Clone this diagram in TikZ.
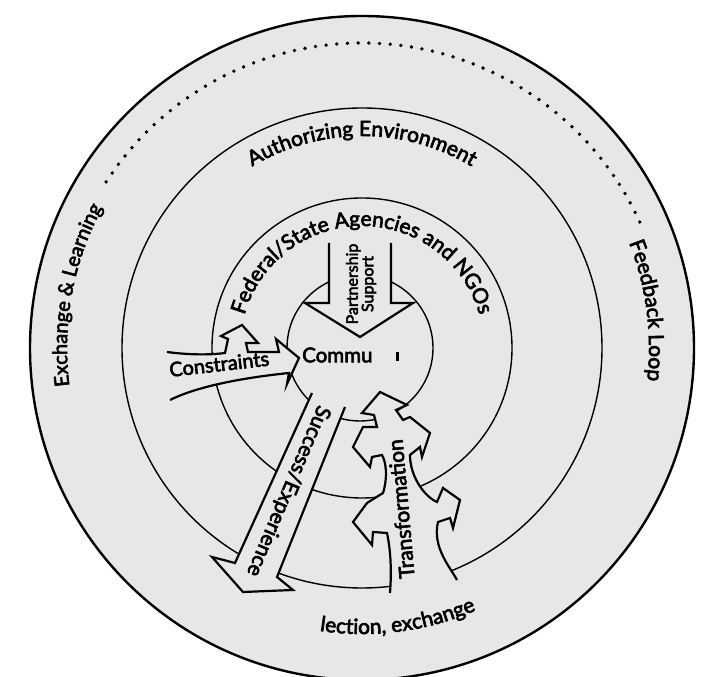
\documentclass[tikz,border=0pt]{standalone}
\usepackage{fontspec}
\setmainfont{Lato}[FakeBold=3]
\usetikzlibrary{decorations.text,calc}
\definecolor{ringfill}{RGB}{230,231,232}
\begin{document}
\begin{tikzpicture}[x=1pt,y=1pt,
  ringline/.style={line width=1.4pt},
  arrowline/.style={line width=2.2pt, fill=ringfill, line join=miter, miter limit=8},
  dotline/.style={line width=3.8pt, line cap=round, dash pattern=on 0pt off 10.7pt},
  lbl/.style={inner sep=0pt}
]
\useasboundingbox (0,0) rectangle (710,677);
\coordinate (C) at (362,329);
\coordinate (Ci) at (360,329);
% rings
\draw[line width=2.4pt, fill=ringfill] (C) circle (332);
\draw[dotline] ($(C)+(147:305)$) arc (147:24:305);
\draw[ringline] (C) circle (240);
\draw[ringline] (C) circle (150);
\draw[ringline] (Ci) circle (73);
% ring texts
\path[decorate, decoration={text along path, text align=center,
  text={|\fontsize{20}{24}\selectfont|Exchange {\&} Learning}}]
  ($(C)+(202:295)$) arc (202:137:295);
\path[decorate, decoration={text along path, text align=center,
  text={|\fontsize{21}{25}\selectfont|Feedback Loop}}]
  ($(C)+(40:287)$) arc (40:-25:287);
\path[decorate, decoration={text along path, text align=center,
  text={|\fontsize{21}{25}\selectfont|Authorizing Environment}}]
  ($(C)+(150:212)$) arc (150:30:212);
\path[decorate, decoration={text along path, text align=center,
  text={|\fontsize{21}{25}\selectfont|Federal/State Agencies and NGOs}}]
  ($(C)+(200:122)$) arc (200:-20:122);
\path[decorate, decoration={text along path, text align=center,
  text={|\fontsize{21}{25}\selectfont|lection, exchange}}]
  ($(C)+(240:286)$) arc (240:315:286);
% Partnership arrow
\draw[arrowline] (329,434) -- (329,374) -- (305,374) -- (360,340) -- (413,374) -- (391,374) -- (391,434);
% Constraints arrow
\draw[arrowline] (167,325) .. controls (190,322) and (210,322) .. (225,324)
  -- (228,338) -- (221,341) -- (242,352) -- (258,334) -- (246,334) -- (248,325)
  -- (279,325) -- (276,338) -- (299,319) -- (287,293) -- (289,304)
  .. controls (250,300) and (200,292) .. (170,277);
% Success arrow
\draw[arrowline] (312,284) -- (235,114) -- (212,120) -- (243,85) -- (293,87) -- (277,100) -- (345,270);
% Transformation arrow
\draw[arrowline] (390,84) .. controls (392,110) and (390,130) .. (387,144)
  -- (373,145) -- (372,132) -- (353,155) -- (367,174) -- (383,184)
  .. controls (388,200) and (386,215) .. (382,222)
  -- (372,220) -- (370,210) -- (353,230) -- (363,250) -- (377,250)
  -- (374,262) -- (362,264) -- (380,285) -- (407,272) -- (396,267)
  -- (403,257) -- (410,260) -- (430,244) -- (422,220) -- (420,230) -- (410,222)
  .. controls (410,200) and (425,180) .. (437,175)
  -- (443,189) -- (460,177) -- (453,149) -- (450,159) -- (438,155)
  .. controls (432,130) and (450,110) .. (457,97);
% labels
\node[lbl, anchor=west, font=\fontsize{20.5}{24}\selectfont] (commu) at (302,322) {Commu};
\node[fill=black, inner sep=0pt, minimum width=2.6pt, minimum height=8.5pt] (tick) at (397.5,320.5) {};
\node[lbl, rotate=90, align=center, font=\fontsize{16}{15.5}\selectfont] (partner) at (361,393) {Partnership\\Support};
\node[lbl, anchor=base west, rotate=6.6, font=\fontsize{20}{24}\selectfont] (constr) at (170,300) {Constraints};
\node[lbl, rotate=-113, font=\fontsize{21}{24}\selectfont] (succ) at (288,186) {Success/Experience};
\node[lbl, rotate=95, font=\fontsize{21}{24}\selectfont] (trans) at (401,168) {Transformation};
\end{tikzpicture}
\end{document}
